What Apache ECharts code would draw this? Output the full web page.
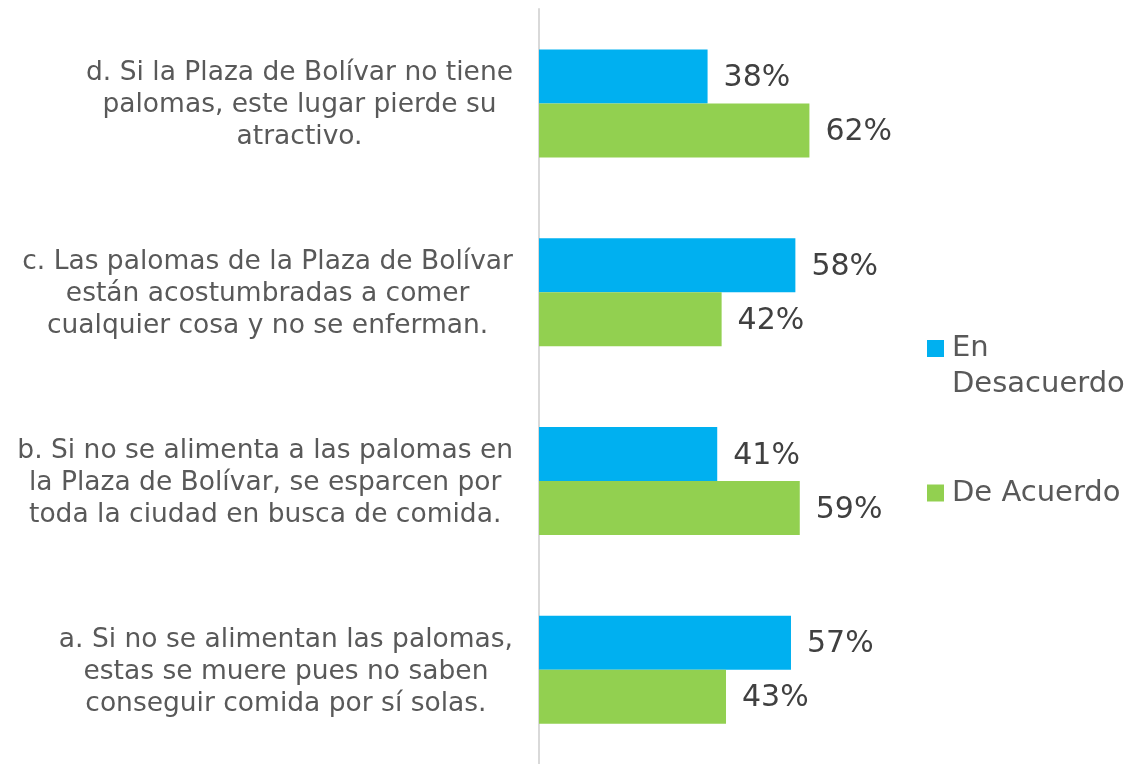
<!DOCTYPE html>
<html>
<head>
    <meta charset="UTF-8">
    <title>palomas</title>
    <script src="https://cdn.jsdelivr.net/npm/echarts@6/dist/echarts.min.js"></script>
    <style>
        *{margin:0;padding:0}
        html,body{width:100%;height:100%;background:#fff}
        #main{width:1126px;height:764px}
    </style>
</head>
<body>
    <div id="main"></div>
    <script type="text/javascript">
        // preguntas (de arriba hacia abajo)
        var categories = [
            'd. Si la Plaza de Bolívar no tiene\npalomas, este lugar pierde su\natractivo.',
            'c. Las palomas de la Plaza de Bolívar\nestán acostumbradas a comer\ncualquier cosa y no se enferman.',
            'b. Si no se alimenta a las palomas en\nla Plaza de Bolívar, se esparcen por\ntoda la ciudad en busca de comida.',
            'a. Si no se alimentan las palomas,\nestas se muere pues no saben\nconseguir comida por sí solas.'
        ];
        var seriesNames = ['En Desacuerdo', 'De Acuerdo'];
        var desacuerdo = [38.4, 58.4, 40.6, 57.4];
        var acuerdo = [61.6, 41.6, 59.4, 42.6];

        var font = '"DejaVu Sans", sans-serif';
        var myChart = echarts.init(document.getElementById('main'));

        var barLabel = {
            show: true,
            position: 'right',
            distance: 16,
            offset: [0, 2],
            fontFamily: font,
            fontSize: 30,
            color: '#404040',
            formatter: function (p) { return Math.round(p.value) + '%'; }
        };

        var option = {
            animation: false,
            textStyle: {fontFamily: font},
            grid: {left: 539, top: 9, width: 439, height: 760, containLabel: false},
            legend: [
                {
                    data: [seriesNames[0]],
                    left: 927, top: 294.5, padding: 0,
                    orient: 'vertical',
                    selectedMode: false,
                    icon: 'rect', itemWidth: 17, itemHeight: 17,
                    // linea vacia arriba para que el icono quede junto a "En"
                    formatter: function () { return ' \nEn\nDesacuerdo'; },
                    textStyle: {fontFamily: font, fontSize: 29, lineHeight: 36, color: '#595959', padding: [0, 0, 0, 3]}
                },
                {
                    data: [seriesNames[1]],
                    left: 927, top: 475.5, padding: 0,
                    orient: 'vertical',
                    selectedMode: false,
                    icon: 'rect', itemWidth: 17, itemHeight: 17,
                    textStyle: {fontFamily: font, fontSize: 29, lineHeight: 35, color: '#595959', padding: [0, 0, 0, 3]}
                }
            ],
            xAxis: {
                type: 'value', min: 0, max: 100, show: false
            },
            yAxis: {
                type: 'category',
                inverse: true,
                data: categories,
                axisLine: {show: true, lineStyle: {color: '#d9d9d9', width: 2}},
                axisTick: {show: false},
                splitLine: {show: false},
                axisLabel: {
                    margin: 26,
                    align: 'right',
                    padding: [4, 0, 0, 0],
                    formatter: function (v) {
                        return v.split('\n').map(function (l) { return '{c|' + l + '}'; }).join('\n');
                    },
                    rich: {
                        c: {
                            align: 'center',
                            fontFamily: font,
                            fontSize: 26.5,
                            lineHeight: 32,
                            color: '#595959'
                        }
                    }
                }
            },
            series: [
                {
                    name: seriesNames[0], type: 'bar', data: desacuerdo,
                    barWidth: 54, barGap: '0%',
                    itemStyle: {color: '#00B0F0'},
                    label: barLabel
                },
                {
                    name: seriesNames[1], type: 'bar', data: acuerdo,
                    barWidth: 54, barGap: '0%',
                    itemStyle: {color: '#92D050'},
                    label: barLabel
                }
            ]
        };
        myChart.setOption(option);
    </script>
</body>
</html>
